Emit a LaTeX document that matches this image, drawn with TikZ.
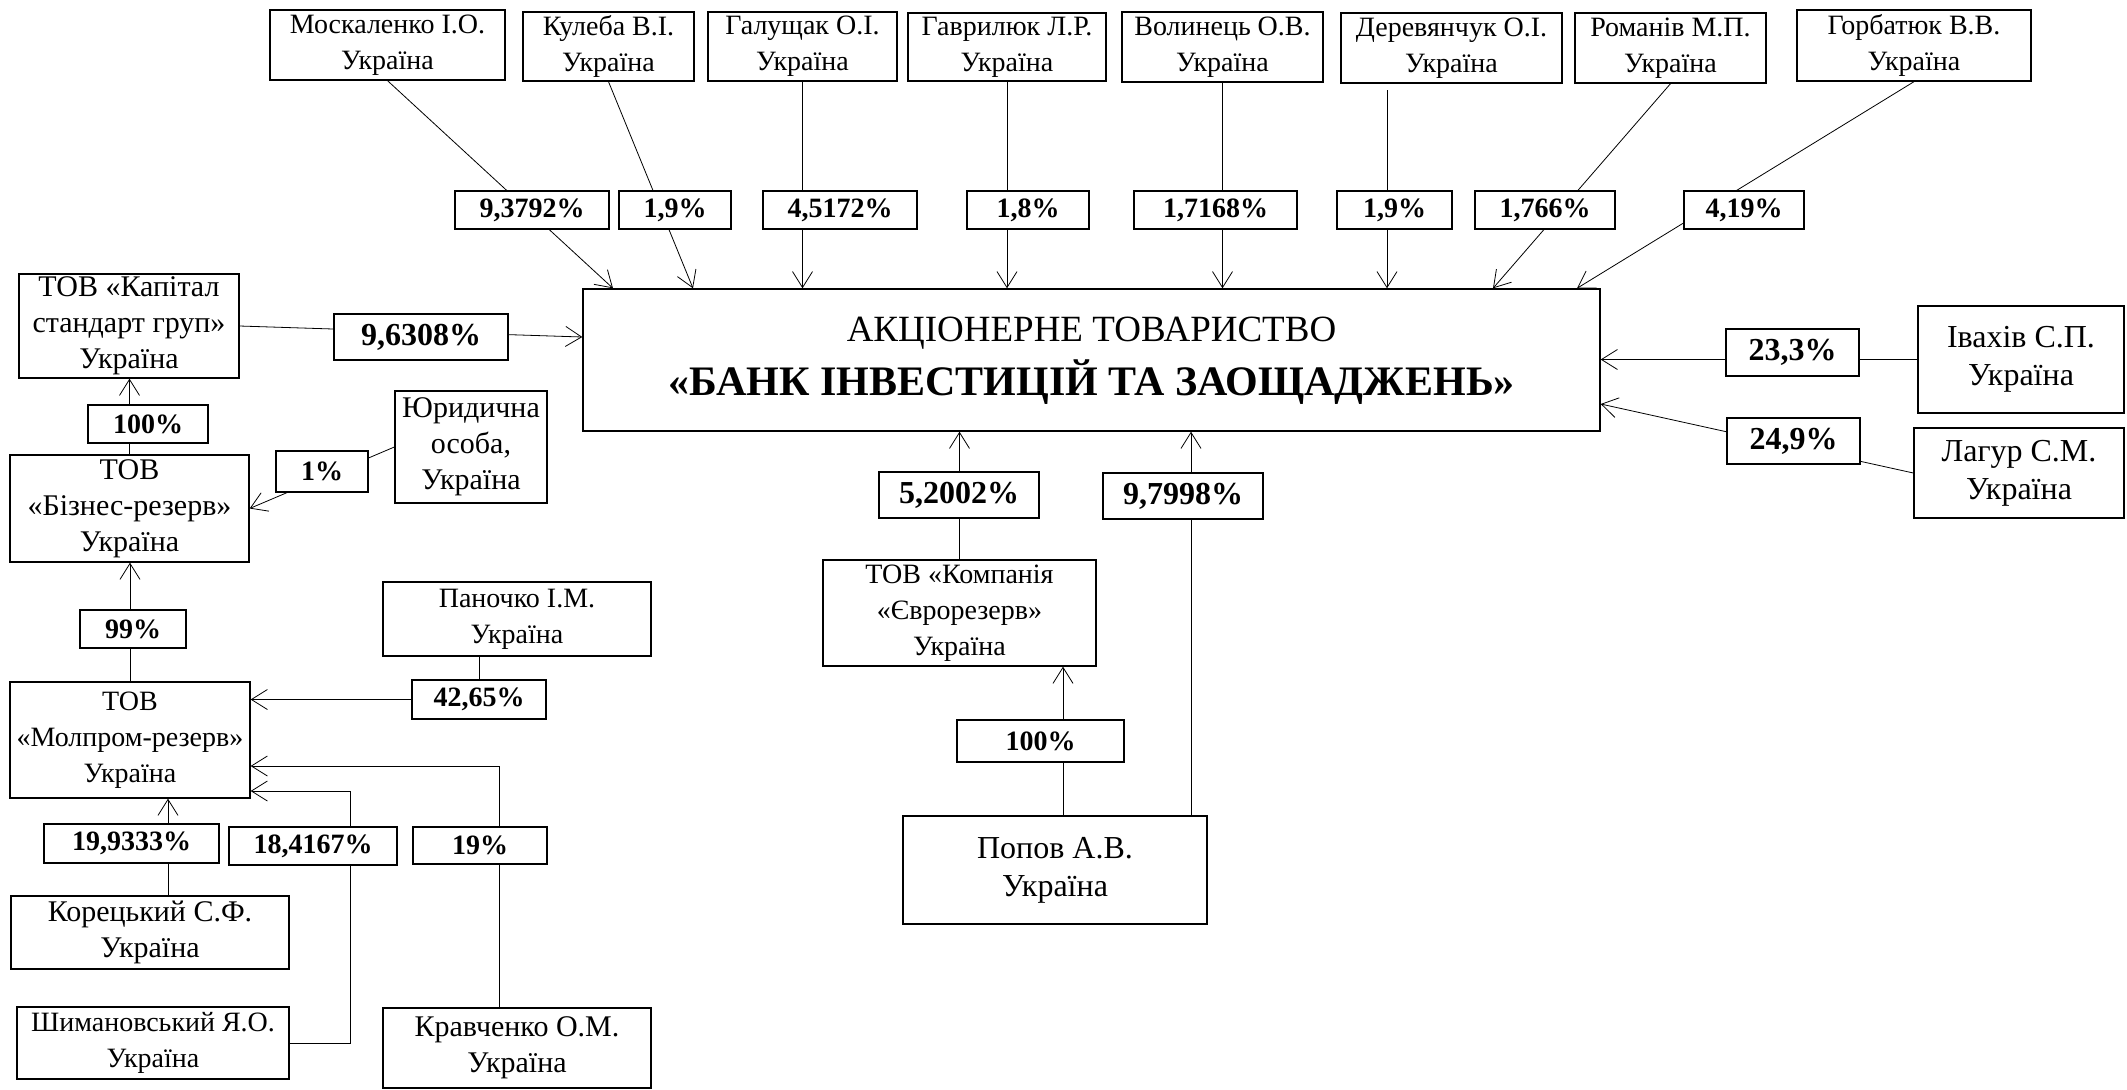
\documentclass[tikz,border=0pt]{standalone}
\usepackage{fontspec}
\setmainfont{Liberation Serif}
\usetikzlibrary{arrows.meta, backgrounds}

\begin{document}
\begin{tikzpicture}[
            x=0.5pt, y=-0.5pt,
            >={Straight Barb[length=8pt, width=10pt]},
            boxwh/.style 2 args={minimum width=#1*0.5pt, minimum height=#2*0.5pt},
            holder/.style={draw, line width=0.65pt, fill=white, align=center, inner sep=0pt,
                font=\fontsize{14}{18}\selectfont},
            midholder/.style={holder, font=\fontsize{15}{18}\selectfont},
            bigholder/.style={holder, font=\fontsize{16}{19}\selectfont},
            share/.style={draw, line width=1.1pt, fill=white, inner sep=0pt,
                font=\fontsize{14}{17}\selectfont\bfseries},
            bigshare/.style={share, font=\fontsize{16}{19}\selectfont\bfseries},
            link/.style={line width=0.65pt}
        ]
        \useasboundingbox (0, 0) rectangle (2127, 1089);

        % the bank
        \node[draw, line width=0.7pt, boxwh={1017}{142}, align=center, text depth=4pt,
            font=\fontsize{18}{27}\selectfont] (bank) at (1091.5, 360)
            {{\fontsize{18.5}{22}\selectfont АКЦІОНЕРНЕ ТОВАРИСТВО}\\
             {\fontsize{21}{25}\selectfont\bfseries «БАНК ІНВЕСТИЦІЙ ТА ЗАОЩАДЖЕНЬ»}};

        % top row
        \node[holder, boxwh={235}{70}] (mosk) at (387.5, 45) {Москаленко І.О.\\Україна};
        \node[holder, boxwh={171}{69}] (kuleba) at (608.5, 46.5) {Кулеба В.І.\\Україна};
        \node[holder, boxwh={189}{69}] (halush) at (802.5, 46.5) {Галущак О.І.\\Україна};
        \node[holder, boxwh={198}{68}] (havr) at (1007, 47) {Гаврилюк Л.Р.\\Україна};
        \node[holder, boxwh={201}{70}] (volyn) at (1222.5, 47) {Волинець О.В.\\Україна};
        \node[holder, boxwh={221}{70}] (derev) at (1451.5, 48) {Деревянчук О.І.\\Україна};
        \node[holder, boxwh={191}{70}] (roman) at (1670.5, 48) {Романів М.П.\\Україна};
        \node[holder, boxwh={234}{71}] (horb) at (1914, 45.5) {Горбатюк В.В.\\Україна};
        \coordinate (derevfoot) at (1387, 90);

        \node[share, boxwh={154}{38}] (smosk) at (532, 210) {9,3792\%};
        \node[share, boxwh={112}{38}] (skuleba) at (675, 210) {1,9\%};
        \node[share, boxwh={154}{38}] (shalush) at (840, 210) {4,5172\%};
        \node[share, boxwh={122}{38}] (shavr) at (1028, 210) {1,8\%};
        \node[share, boxwh={163}{38}] (svolyn) at (1215.5, 210) {1,7168\%};
        \node[share, boxwh={115}{38}] (sderev) at (1394.5, 210) {1,9\%};
        \node[share, boxwh={140}{38}] (sroman) at (1545, 210) {1,766\%};
        \node[share, boxwh={120}{38}] (shorb) at (1744, 210) {4,19\%};

        % right side
        \node[bigholder, boxwh={206}{107}] (ivakhiv) at (2021, 359.5) {Івахів С.П.\\Україна};
        \node[bigholder, boxwh={210}{90}] (lagur) at (2019, 473) {Лагур С.М.\\Україна};
        \node[bigshare, boxwh={133}{47}] (sivakhiv) at (1792.5, 352.5) {23,3\%};
        \node[bigshare, boxwh={133}{46}] (slagur) at (1793.5, 441) {24,9\%};

        % left side
        \node[midholder, boxwh={220}{104}] (kapital) at (129, 326) {ТОВ «Капітал\\стандарт груп»\\Україна};
        \node[midholder, boxwh={239}{107}] (biznes) at (129.5, 508.5) {ТОВ\\«Бізнес-резерв»\\Україна};
        \node[midholder, boxwh={152}{112}] (yuryd) at (471, 447) {Юридична\\особа,\\Україна};
        \node[holder, boxwh={240}{116}] (molprom) at (130, 740) {ТОВ\\«Молпром-резерв»\\Україна};
        \node[holder, boxwh={268}{74}] (panochko) at (517, 619) {Паночко І.М.\\Україна};
        \node[midholder, boxwh={278}{73}] (koretsky) at (150, 932.5) {Корецький С.Ф.\\Україна};
        \node[holder, boxwh={272}{72}] (shyman) at (153, 1043) {Шимановський Я.О.\\Україна};
        \node[midholder, boxwh={268}{80}] (kravch) at (517, 1048) {Кравченко О.М.\\Україна};
        \coordinate (shymbend) at (350, 791);

        \node[bigshare, boxwh={174}{46}] (skapital) at (421, 337) {9,6308\%};
        \node[share, boxwh={120}{38}] (sbiznes) at (148, 424) {100\%};
        \node[share, boxwh={92}{41}] (syuryd) at (322, 471.5) {1\%};
        \node[share, boxwh={106}{38}] (smolprom) at (133, 629) {99\%};
        \node[share, boxwh={134}{39}] (spanochko) at (479, 699.5) {42,65\%};
        \node[share, boxwh={175}{39}] (skoretsky) at (131.5, 843.5) {19,9333\%};
        \node[share, boxwh={168}{38}] (sshyman) at (313, 846) {18,4167\%};
        \node[share, line width=0.65pt, boxwh={134}{37}] (skravch) at (480, 845.5) {19\%};

        % middle
        \node[holder, boxwh={273}{106}] (evro) at (959.5, 613) {ТОВ «Компанія\\«Єврорезерв»\\Україна};
        \node[bigholder, boxwh={304}{108}] (popov) at (1055, 870) {Попов А.В.\\Україна};
        \node[bigshare, boxwh={160}{46}] (sevro) at (959, 495) {5,2002\%};
        \node[share, boxwh={167}{42}] (spopovevro) at (1040.5, 741) {100\%};
        \node[bigshare, boxwh={160}{46}] (spopov) at (1183, 496) {9,7998\%};

        \begin{scope}[on background layer, link]
            \draw[->] (mosk.south) -- (bank.north -| 613,0);
            \draw[->] (kuleba.south) -- (bank.north -| 693,0);
            \draw[->] (halush.south) -- (halush.south |- bank.north);
            \draw[->] (havr.south) -- (havr.south |- bank.north);
            \draw[->] (volyn.south) -- (volyn.south |- bank.north);
            \draw[->] (derevfoot) -- (derevfoot |- bank.north);
            \draw[->] (roman.south) -- (bank.north -| 1493,0);
            \draw[->] (horb.south) -- (bank.north -| 1577,0);

            \draw[->] (ivakhiv.west) -- (ivakhiv.west -| bank.east);
            \draw[->] (lagur.west) -- (bank.east |- 0,404);
            \draw[->] (kapital.east) -- (bank.west |- 0,337);

            \draw[->] (biznes.north) -- (biznes.north |- kapital.south);
            \draw[->] (yuryd.west) -- (biznes.east);
            \draw[->] (molprom.north) -- (molprom.north |- biznes.south);
            \draw[->] (panochko.south -| spanochko.north) |- (molprom.east |- spanochko.west);
            \draw[->] (koretsky.north -| 168,0) -- (molprom.south -| 168,0);
            \draw[->] (shyman.east) -| (shymbend) -- (molprom.east |- shymbend);
            \draw[->] (kravch.north -| 499,0) |- (molprom.east |- 0,766);

            \draw[->] (evro.north) -- (evro.north |- bank.south);
            \draw[->] (popov.north -| 1063,0) -- (evro.south -| 1063,0);
            \draw[->] (popov.north -| 1191,0) -- (bank.south -| 1191,0);
        \end{scope}
    \end{tikzpicture}
\end{document}
